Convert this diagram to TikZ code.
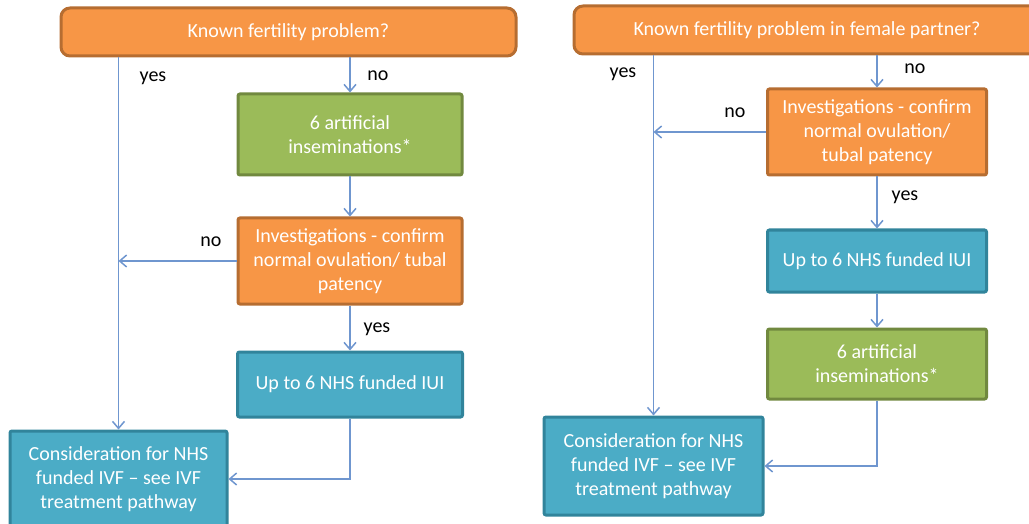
\documentclass[tikz,border=0pt]{standalone}
\usepackage{fontspec}
\setmainfont{Carlito}
\usepackage{tikz}
\usetikzlibrary{arrows.meta,positioning}
\definecolor{boxorange}{HTML}{F79646}
\definecolor{edgeorange}{HTML}{B66D31}
\definecolor{boxgreen}{HTML}{9BBB59}
\definecolor{edgegreen}{HTML}{71893F}
\definecolor{boxblue}{HTML}{4BACC6}
\definecolor{edgeblue}{HTML}{31849B}
\definecolor{linkblue}{HTML}{6F96CF}
\tikzset{step node/.style={rectangle, draw, line width=3pt, rounded corners=2pt,
    text=white, align=center, inner sep=0pt, font=\fontsize{20}{24}\selectfont}}
\tikzset{question node/.style={step node, fill=boxorange, draw=edgeorange, rounded corners=9pt}}
\tikzset{check node/.style={step node, fill=boxorange, draw=edgeorange}}
\tikzset{action node/.style={step node, fill=boxgreen, draw=edgegreen}}
\tikzset{nhs node/.style={step node, fill=boxblue, draw=edgeblue}}
\tikzset{answer label/.style={font=\fontsize{20}{24}\selectfont, text=black, inner sep=0pt}}
\tikzset{flow edge/.style={draw=linkblue, line width=1.5pt, -{Straight Barb[length=7pt,width=12pt]}}}

\begin{document}
\begin{tikzpicture}
      [x=1pt, y=-1pt]
      \clip (0,0) rectangle (1029,524);
      \node [question node, minimum width=455, minimum height=48] (ltop) at (288.5, 32)  {Known fertility problem?};
      \node [action node, minimum width=224, minimum height=81]   (lart) at (350, 134.5)  {6 artificial\\inseminations*};
      \node [check node,  minimum width=224, minimum height=86]   (linv) at (350, 261)    {Investigations - confirm\\normal ovulation/ tubal\\patency};
      \node [nhs node,    minimum width=225, minimum height=65]   (liui) at (350, 384.5)  {Up to 6 NHS funded IUI};
      \node [nhs node,    minimum width=217, minimum height=96]   (lcon) at (118.5, 479)  {Consideration for NHS\\funded IVF -- see IVF\\treatment pathway};
      \node [question node, minimum width=466, minimum height=48] (rtop) at (807, 30)     {Known fertility problem in female partner?};
      \node [check node,  minimum width=219, minimum height=86]   (rinv) at (877, 132)    {Investigations - confirm\\normal ovulation/\\tubal patency};
      \node [nhs node,    minimum width=219, minimum height=62]   (riui) at (877, 261)    {Up to 6 NHS funded IUI};
      \node [action node, minimum width=219, minimum height=70]   (rart) at (877, 364)    {6 artificial\\inseminations*};
      \node [nhs node,    minimum width=219, minimum height=98]   (rcon) at (653.5, 466)  {Consideration for NHS\\funded IVF -- see IVF\\treatment pathway};

      \node [answer label] (lyes1) at (153, 78)  {yes};
      \node [answer label] (lno1)  at (378, 76)  {no};
      \node [answer label] (lno2)  at (211, 242) {no};
      \node [answer label] (lyes2) at (377, 329) {yes};
      \node [answer label] (ryes1) at (623, 74)  {yes};
      \node [answer label] (rno1)  at (915, 69)  {no};
      \node [answer label] (rno2)  at (735, 113) {no};
      \node [answer label] (ryes2) at (905, 197) {yes};

      \draw [flow edge]  (lcon.north |- ltop.south) to (lcon.north);
      \draw [flow edge]  (lart.north |- ltop.south) to (lart.north);
      \draw [flow edge]  (lart.south) to (linv.north);
      \draw [flow edge]  (linv.west) to (linv.west -| lcon.north);
      \draw [flow edge]  (linv.south) to (liui.north);
      \draw [flow edge]  (liui.south) |- (lcon.east);
      \draw [flow edge]  (rcon.north |- rtop.south) to (rcon.north);
      \draw [flow edge]  (rinv.north |- rtop.south) to (rinv.north);
      \draw [flow edge]  (rinv.west) to (rinv.west -| rcon.north);
      \draw [flow edge]  (rinv.south) to (riui.north);
      \draw [flow edge]  (riui.south) to (rart.north);
      \draw [flow edge]  (rart.south) |- (rcon.east);
    \end{tikzpicture}
\end{document}
